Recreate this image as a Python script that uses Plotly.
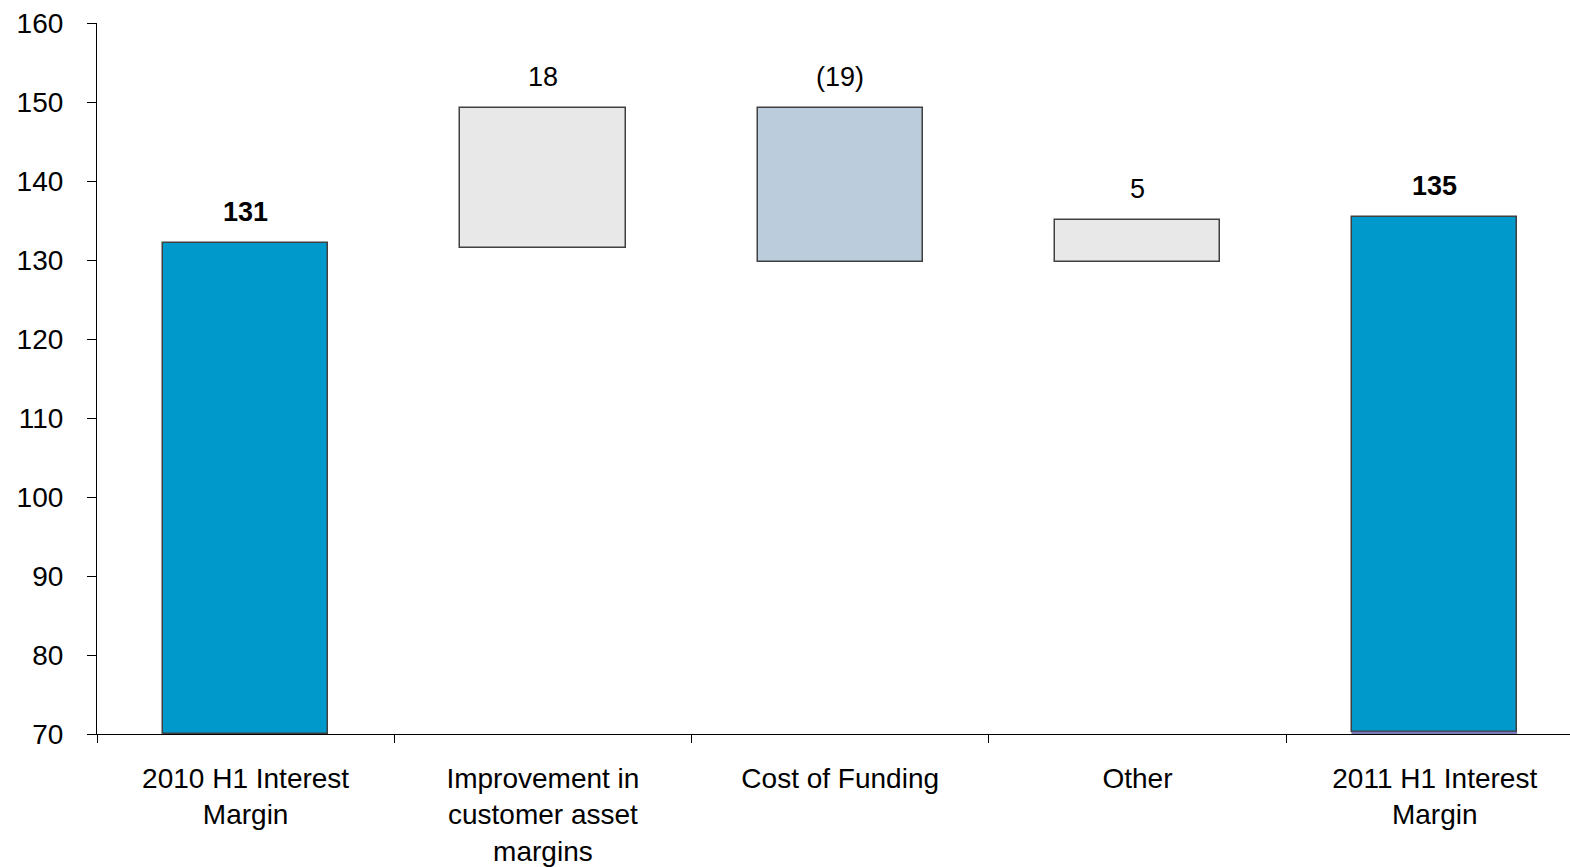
import plotly.graph_objects as go

categories = ["2010 H1 Interest<br>Margin", "Improvement in<br>customer asset<br>margins",
              "Cost of Funding", "Other", "2011 H1 Interest<br>Margin"]
bar_start = [70, 131.5, 149.3, 129.8, 70.3]
bar_end = [132.2, 149.3, 129.8, 135.1, 135.5]
bar_colors = ["#0099CC", "#E8E8E8", "#BBCCDD", "#E8E8E8", "#0099CC"]
value_labels = ["<b>131</b>", "18", "(19)", "5", "<b>135</b>"]
sliver_start = [None, None, None, None, 70]
sliver_end = [None, None, None, None, 70.3]

base = [min(s, e) for s, e in zip(bar_start, bar_end)]
height = [abs(e - s) for s, e in zip(bar_start, bar_end)]
tops = [max(s, e) for s, e in zip(bar_start, bar_end)]

fig = go.Figure()
fig.add_trace(go.Bar(
    x=categories, y=height, base=base,
    marker=dict(color=bar_colors, line=dict(color="#404040", width=1.5)),
    width=0.556, hoverinfo="skip", showlegend=False,
))
sl_x = [c for c, s in zip(categories, sliver_start) if s is not None]
sl_b = [s for s in sliver_start if s is not None]
sl_h = [e - s for s, e in zip(sliver_start, sliver_end) if s is not None]
fig.add_trace(go.Bar(
    x=sl_x, y=sl_h, base=sl_b,
    marker=dict(color="#7B7BC8", line=dict(color="#505070", width=0.5)),
    width=0.556, hoverinfo="skip", showlegend=False,
))

for c, t, lab in zip(categories, tops, value_labels):
    fig.add_annotation(x=c, y=t, text=lab, showarrow=False, yanchor="middle",
                       yshift=31, font=dict(size=27, color="black"))

fig.update_layout(
    width=1570, height=867,
    margin=dict(l=97, r=0, t=23, b=133),
    plot_bgcolor="white", paper_bgcolor="white",
    font=dict(family="Liberation Sans, Arial, sans-serif", size=27, color="black"),
    barmode="overlay", bargap=0,
)
fig.update_xaxes(
    type="category", range=[-0.5, 4.455], tickson="boundaries",
    showline=True, linecolor="black", linewidth=1.2,
    ticks="outside", ticklen=8, tickcolor="black", tickwidth=1,
    showgrid=False, zeroline=False, ticklabelstandoff=19,
    tickfont=dict(size=28),
)
fig.update_yaxes(
    range=[70, 160], dtick=10, tick0=70,
    showline=True, linecolor="black", linewidth=1.2,
    ticks="outside", ticklen=9, tickcolor="black", tickwidth=1,
    showgrid=False, zeroline=False, ticklabelstandoff=18,
    tickfont=dict(size=28),
)

fig.write_html("out.html")
